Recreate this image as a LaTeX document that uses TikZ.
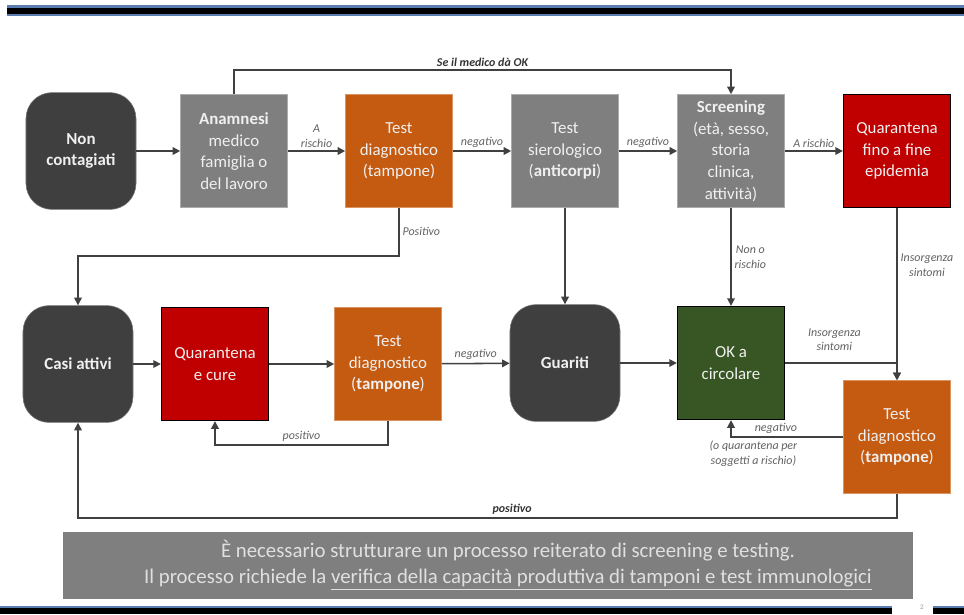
\documentclass[tikz,border=0pt]{standalone}
\usepackage{fontspec}
\setmainfont{Carlito}
\usepackage{tikz}
\usetikzlibrary{arrows.meta,positioning,calc}
\definecolor{cdark}{HTML}{3F3F3F}
\definecolor{cgrey}{HTML}{7F7F7F}
\definecolor{corange}{HTML}{C55A11}
\definecolor{cred}{HTML}{C00000}
\definecolor{cgreen}{HTML}{375623}
\definecolor{cline}{HTML}{404040}
\definecolor{cbar}{HTML}{5B7DB1}
\newcommand{\bxfont}{\fontsize{12}{15.4}\selectfont}
\newcommand{\lbfont}{\fontsize{8.5}{10.5}\selectfont\itshape}
\tikzset{
  box/.style={rectangle, minimum width=2.675cm, minimum height=2.825cm, inner sep=1pt, align=center, font=\bxfont, text=white!94!black},
  state/.style={box, rounded corners=0.65cm, minimum width=2.75cm, minimum height=2.92cm, fill=cdark, draw=cdark!70!white, font=\bxfont\bfseries},
  check/.style={box, fill=cgrey, draw=cgrey!65!white},
  swab/.style={box, fill=corange, draw=corange!65!white},
  quar/.style={box, fill=cred, draw=black, line width=0.9pt},
  okbox/.style={box, fill=cgreen, draw=black, line width=0.9pt},
  ar/.style={-{Triangle[length=1.9mm,width=1.9mm]}, line width=1.1pt, draw=cline},
  lbl/.style={font=\lbfont, text=black!62, align=center, inner sep=2pt},
  lblb/.style={lbl, font=\lbfont\bfseries, text=black!80},
}
\begin{document}
\begin{tikzpicture}[x=0.025cm, y=-0.025cm]
\useasboundingbox (0,0) rectangle (964,614);
% bars
\fill[cbar] (7,5) rectangle (964,16);
\fill[black] (7,7.5) rectangle (964,13.5);
\fill[cbar] (0,606) rectangle (892,614);
\fill[black] (0,608) rectangle (892,614);
\fill[cbar] (933,606) rectangle (964,614);
\fill[black] (933,608) rectangle (964,614);
\node[font=\tiny, text=black!40, inner sep=0pt] (pg) at (922,607) {2};
% first row
\node[state] (non) at (81,151) {Non\\contagiati};
\node[check] (anam) at (234,151) {\textbf{Anamnesi}\\medico\\famiglia o\\del lavoro};
\node[swab] (test1) at (399,151) {Test\\diagnostico\\(tampone)};
\node[check] (sero) at (565,151) {Test\\sierologico\\(\textbf{anticorpi})};
\node[check] (scr) at (731,151) {\textbf{Screening}\\(età, sesso,\\storia\\clinica,\\attività)};
\node[quar] (qfine) at (897,151) {Quarantena\\fino a fine\\epidemia};
% second row
\node[state] (casi) at (78,364) {Casi attivi};
\node[quar] (qcure) at (215,364) {Quarantena\\e cure};
\node[swab] (test2) at (388,364) {Test\\diagnostico\\(\textbf{tampone})};
\node[state] (guar) at (565,363) {Guariti};
\node[okbox] (ok) at (731,363) {OK a\\circolare};
\node[swab] (test3) at (897,437) {Test\\diagnostico\\(\textbf{tampone})};
\coordinate (top) at (474,70);
\coordinate (lowa) at (300,256);
\coordinate (lowb) at (300,445);
\coordinate (lowc) at (300,518);
% connectors
\draw[ar] (non) -- (anam);
\draw[ar] (anam) -- node[lbl, above] {A\\rischio} (test1);
\draw[ar] (test1) -- node[lbl, above] {negativo} (sero);
\draw[ar] (sero) -- node[lbl, above] {negativo} (scr);
\draw[ar] (scr) -- node[lbl, above] {A rischio} (qfine);
\draw[ar] (anam.north) -- (anam.north |- top) -- node[lblb, above] {Se il medico dà OK} (scr.north |- top) -- (scr.north);
\draw[ar] (test1.south) -- node[lbl, right] {Positivo} (test1.south |- lowa) -- (casi.north |- lowa) -- (casi.north);
\draw[ar] (sero) -- (guar);
\draw[ar] (scr) -- node[lbl, right] {Non o\\rischio} (ok);
\draw[ar] (qfine) -- node[lbl, right, pos=0.33] {Insorgenza\\sintomi} (test3);
\draw[ar] (casi) -- (qcure);
\draw[ar] (qcure) -- (test2);
\draw[ar] (test2) -- node[lbl, above] {negativo} (guar);
\draw[ar] (guar) -- (ok);
\draw[ar] (ok.east) -| node[lbl, pos=0.22, above=6pt] {Insorgenza\\sintomi} (test3.north);
\draw[ar] (test3.west) -| node[lbl, pos=0.3, above] {negativo} node[lbl, pos=0.4, below] {(o quarantena per\\soggetti a rischio)} (ok.south);
\draw[ar] (test2.south) -- (test2.south |- lowb) -- node[lbl, above] {positivo} (qcure.south |- lowb) -- (qcure.south);
\draw[ar] (test3.south) -- (test3.south |- lowc) -- node[lblb, above, pos=0.47] {positivo} (casi.south |- lowc) -- (casi.south);
% note
\fill[cgrey] (63,532) rectangle (913,599);
\node[font=\fontsize{14.8}{18.4}\selectfont, text=white!88!black, align=center] (note) at (508,565) {È necessario strutturare un processo reiterato di screening e testing.\\Il processo richiede la \underline{verifica della capacità produttiva di tamponi e test immunologici}};
\end{tikzpicture}
\end{document}
